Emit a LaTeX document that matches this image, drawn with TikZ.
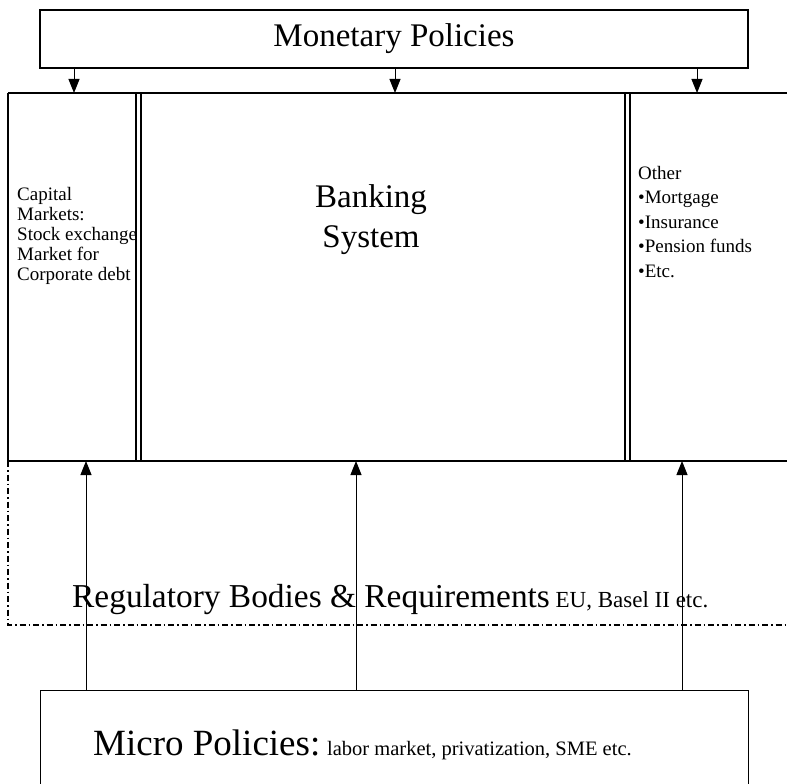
\documentclass[tikz,border=0pt]{standalone}
\usepackage{fontspec}
\setmainfont{Liberation Serif}
\usetikzlibrary{arrows.meta}
\begin{document}
\begin{tikzpicture}[x=1pt,y=-1pt,
  bigtxt/.style={font=\fontsize{33}{40}\selectfont},
  smalltxt/.style={font=\fontsize{19}{20}\selectfont},
  boxed/.style={draw=black, line width=1.3pt, inner sep=0pt},
  frame/.style={draw=black, line width=1.3pt},
  heavy/.style={draw=black, line width=2.2pt},
  arr/.style={draw=black, line width=1pt, -{Triangle[length=14pt,width=11pt]}},
  dashdot/.style={draw=black, line width=1.4pt, dash pattern=on 6pt off 3pt on 1.5pt off 3pt}]
\useasboundingbox (0,0) rectangle (787,784);

% top box
\node[boxed, bigtxt, minimum width=708pt, minimum height=58pt] (mon) at (394,39) {Monetary Policies};

% institutional frame: three cells between two heavy rules
\coordinate (tl) at (8,93);
\coordinate (tr) at (787,93);
\coordinate (bl) at (8,461);
\coordinate (br) at (787,461);
\draw[frame] (tl) -- (bl);
\draw[frame] (136,93) -- (136,461);
\draw[frame] (141,93) -- (141,461);
\draw[frame] (625,93) -- (625,461);
\draw[frame] (630,93) -- (630,461);
\draw[heavy] (tl) -- (tr);
\draw[heavy] (bl) -- (br);

% regulatory band
\coordinate (rb) at (8,625);
\coordinate (rr) at (787,625);
\draw[dashdot] (bl) -- (rb) -- (rr);

% cell texts
\node[smalltxt, anchor=north west, align=left, inner sep=0pt] (cap) at (17,187)
  {Capital\\Markets:\\Stock exchange\\Market for\\Corporate debt};
\node[bigtxt, align=center, inner sep=0pt] (bank) at (371,220) {Banking\\System};
\node[anchor=north west, align=left, inner sep=0pt,
  font=\fontsize{19}{24.5}\selectfont] (oth) at (638,166)
  {Other\\\textbullet Mortgage\\\textbullet Insurance\\\textbullet Pension funds\\\textbullet Etc.};

\node[anchor=west, inner sep=0pt] (reg) at (72,600)
  {\fontsize{33.4}{40}\selectfont Regulatory Bodies \& Requirements\fontsize{23}{26}\selectfont{} EU, Basel II etc.};

% bottom box, running past the lower edge
\node[boxed, anchor=north west, minimum width=708pt, minimum height=110pt] (mic) at (40,690) {};
\node[anchor=west, inner sep=0pt] (mictxt) at (93,745)
  {\fontsize{37}{42}\selectfont Micro Policies:\fontsize{20.5}{24}\selectfont{} labor market, privatization, SME etc.};

% arrows from monetary policy down to the frame
\coordinate (d1) at (74,93);
\coordinate (d2) at (395,93);
\coordinate (d3) at (697,93);
\draw[arr] (mon.south -| d1) -- (d1);
\draw[arr] (mon.south -| d2) -- (d2);
\draw[arr] (mon.south -| d3) -- (d3);

% arrows from micro policies up to the frame
\coordinate (u1) at (86,461);
\coordinate (u2) at (356,461);
\coordinate (u3) at (682,461);
\draw[arr] (mic.north -| u1) -- (u1);
\draw[arr] (mic.north -| u2) -- (u2);
\draw[arr] (mic.north -| u3) -- (u3);
\end{tikzpicture}
\end{document}
